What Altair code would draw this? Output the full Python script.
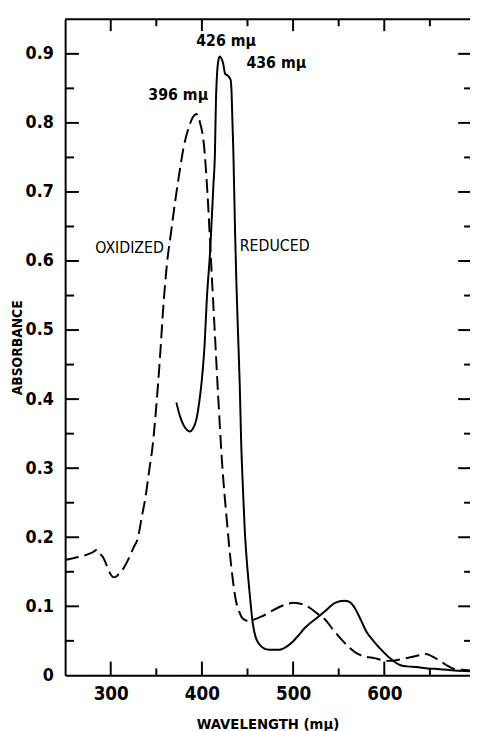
import altair as alt
import pandas as pd

# ---------------- data ----------------
ox_wl = [250, 260, 270, 280, 285, 288.5, 292, 296, 300, 303, 306, 310, 314, 320, 325, 330,
         334, 338, 342, 346, 350, 354, 358, 362, 366, 370, 375, 380, 386, 390, 394, 398,
         402, 406, 410, 414, 418, 422, 427, 432, 437, 441, 445, 450, 455, 465, 475, 485,
         495, 500, 507, 513, 520, 527, 535, 544, 553, 562, 571, 580, 589, 598, 607, 617,
         628, 638, 646, 653, 661, 668, 675, 685, 694]
ox_abs = [0.167, 0.170, 0.173, 0.178, 0.182, 0.176, 0.170, 0.158, 0.146, 0.142, 0.143, 0.149,
          0.155, 0.170, 0.185, 0.200, 0.229, 0.257, 0.295, 0.333, 0.390, 0.460, 0.540, 0.600,
          0.640, 0.680, 0.725, 0.765, 0.795, 0.808, 0.813, 0.800, 0.771, 0.700, 0.600, 0.500,
          0.400, 0.310, 0.229, 0.160, 0.110, 0.092, 0.082, 0.079, 0.080, 0.085, 0.092, 0.099,
          0.104, 0.105, 0.104, 0.102, 0.096, 0.089, 0.081, 0.066, 0.052, 0.040, 0.031, 0.027,
          0.025, 0.022, 0.021, 0.023, 0.026, 0.029, 0.031, 0.027, 0.021, 0.015, 0.010, 0.008,
          0.007]

red_wl = [372, 376, 380, 384, 387, 390, 394, 397, 400, 403, 405.3, 409, 412.6, 414.3, 415.4,
          418, 419.7, 421.5, 423.3, 425.5, 428.7, 431.5, 432.5, 433.5, 434.5, 436.4, 438, 440,
          441.5, 443, 445, 447, 449, 452, 455.7, 459, 463, 468, 474, 484, 492, 499, 506, 513,
          520, 526, 535, 546, 556, 561, 566, 570, 574, 581, 588, 596, 607, 617, 625, 635, 648,
          661, 677, 694]
red_abs = [0.395, 0.375, 0.362, 0.355, 0.353, 0.357, 0.371, 0.395, 0.429, 0.480, 0.543, 0.614,
           0.710, 0.757, 0.833, 0.890, 0.896, 0.893, 0.886, 0.871, 0.868, 0.862, 0.845, 0.800,
           0.757, 0.640, 0.560, 0.480, 0.420, 0.340, 0.270, 0.210, 0.170, 0.124, 0.076, 0.055,
           0.045, 0.039, 0.037, 0.037, 0.041, 0.048, 0.058, 0.069, 0.077, 0.083, 0.093, 0.105,
           0.108, 0.107, 0.101, 0.092, 0.081, 0.062, 0.050, 0.038, 0.024, 0.015, 0.013, 0.012,
           0.010, 0.009, 0.007, 0.006]

x_major = [300, 400, 500, 600]
x_minor = [350, 450, 550, 650]
y_labels = [0, 0.1, 0.2, 0.3, 0.4, 0.5, 0.6, 0.7, 0.8, 0.9]
y_major = [0.1, 0.2, 0.3, 0.4, 0.5, 0.6, 0.7, 0.8, 0.9]
y_minor = [0.05, 0.15, 0.25, 0.35, 0.45, 0.55, 0.65, 0.75, 0.85]

peak_text = ["426 m\u03bc", "436 m\u03bc", "396 m\u03bc"]
peak_x = [426.5, 481.5, 374.0]
peak_y = [0.918, 0.887, 0.841]

name_text = ["OXIDIZED", "REDUCED"]
name_x = [320.7, 479.8]
name_y = [0.619, 0.621]

# ---------------- chart ----------------
W, H = 411, 666
FONT = "DejaVu Sans Condensed, Liberation Sans Narrow, Liberation Sans, sans-serif"

xs = alt.Scale(domain=[250, 694], nice=False, zero=False)
ys = alt.Scale(domain=[0, 0.95], nice=False, zero=True)

ox_df = pd.DataFrame({"wl": ox_wl, "a": ox_abs})
red_df = pd.DataFrame({"wl": red_wl, "a": red_abs})

x_axis = alt.Axis(values=x_major, title="WAVELENGTH (m\u03bc)", ticks=False, tickSize=0,
                  grid=False, domainColor="black", domainWidth=2, labelFont=FONT,
                  labelFontSize=19, labelFontWeight="bold", labelColor="black",
                  labelPadding=10, titleFont=FONT, titleFontSize=15, titleFontWeight="bold",
                  titleColor="black", titlePadding=13, format="d")
y_axis = alt.Axis(values=y_labels, title="ABSORBANCE", ticks=False, tickSize=0, grid=False,
                  domainColor="black", domainWidth=2, labelFont=FONT, labelFontSize=18,
                  labelFontWeight="bold", labelColor="black", labelPadding=12,
                  labelExpr="datum.value == 0 ? '0' : format(datum.value, '.1f')",
                  titleFont=FONT, titleFontSize=14, titleFontWeight="bold",
                  titleColor="black", titlePadding=1)

oxidized = alt.Chart(ox_df).mark_line(
    color="black", strokeWidth=2, strokeDash=[14, 6], interpolate="monotone"
).encode(
    x=alt.X("wl:Q", scale=xs, axis=x_axis),
    y=alt.Y("a:Q", scale=ys, axis=y_axis),
)

reduced = alt.Chart(red_df).mark_line(
    color="black", strokeWidth=2, interpolate="monotone"
).encode(
    x=alt.X("wl:Q", scale=xs),
    y=alt.Y("a:Q", scale=ys),
)

ymaj_df = pd.DataFrame({"v": y_major})
ymin_df = pd.DataFrame({"v": y_minor})
xmaj_df = pd.DataFrame({"v": x_major})
xmin_df = pd.DataFrame({"v": x_minor})

def ytick(df, x0, x1):
    return alt.Chart(df).mark_rule(color="black", strokeWidth=2).encode(
        y=alt.Y("v:Q", scale=ys), x=alt.value(x0), x2=alt.value(x1))

def xtick(df, y0, y1):
    return alt.Chart(df).mark_rule(color="black", strokeWidth=2).encode(
        x=alt.X("v:Q", scale=xs), y=alt.value(y0), y2=alt.value(y1))

top_border = alt.Chart(pd.DataFrame({"v": [0.95]})).mark_rule(color="black", strokeWidth=2).encode(
    y=alt.Y("v:Q", scale=ys), x=alt.value(0), x2=alt.value(W))

ticks = [
    ytick(ymaj_df, 0, 14), ytick(ymin_df, 0, 9),
    ytick(ymaj_df, W - 12, W), ytick(ymin_df, W - 6, W),
    xtick(xmaj_df, H, H - 14), xtick(xmin_df, H, H - 7),
    xtick(xmaj_df, 0, 12), xtick(xmin_df, 0, 7),
]

peaks = alt.Chart(pd.DataFrame({"t": peak_text, "x": peak_x, "y": peak_y})).mark_text(
    font=FONT, fontSize=16, fontWeight="bold", color="black", align="center", baseline="middle"
).encode(x=alt.X("x:Q", scale=xs), y=alt.Y("y:Q", scale=ys), text="t:N")

names = alt.Chart(pd.DataFrame({"t": name_text, "x": name_x, "y": name_y})).mark_text(
    font=FONT, fontSize=16, fontWeight="normal", color="black", align="center", baseline="middle"
).encode(x=alt.X("x:Q", scale=xs), y=alt.Y("y:Q", scale=ys), text="t:N")

chart = alt.layer(oxidized, reduced, top_border, *ticks, peaks, names).properties(
    width=W, height=H,
    padding={"left": 58, "top": 6, "right": 0, "bottom": 51},
    autosize=alt.AutoSizeParams(type="none"),
    background="white",
).configure_view(stroke=None)

chart.save("out.html", embed_options={"renderer": "svg", "actions": False})
